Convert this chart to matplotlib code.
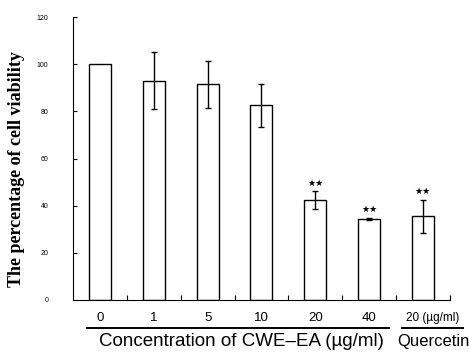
import matplotlib
matplotlib.use('Agg')
from matplotlib import pyplot as plt
from matplotlib.lines import Line2D
import numpy as np

# values
groups = ['0', '1', '5', '10', '20', '40', '20 (µg/ml)']
viability = [100, 93, 91.5, 82.5, 42.4, 34.3, 35.6]
sd = [0, 12, 10, 9.3, 3.8, 0.5, 7]
signif = ['', '', '', '', '★★', '★★', '★★']
yticks = [0, 20, 40, 60, 80, 100, 120]

fig = plt.figure(figsize=(4.69, 3.55), dpi=100)
ax = fig.add_axes([0.156, 0.155, 0.803, 0.797])

x = np.arange(len(groups))
ax.bar(x, viability, width=0.41, color='white', edgecolor='black', linewidth=1.0)
ax.errorbar(x[1:], viability[1:], yerr=sd[1:], fmt='none', ecolor='black',
            elinewidth=1.0, capsize=2.5, capthick=1.0)

for xi, v, e, s in zip(x, viability, sd, signif):
    if s:
        ax.text(xi, v + e + 1.5, s, ha='center', va='bottom', fontsize=6.5,
                family=['DejaVu Sans'])

ax.set_xlim(-0.5, 6.5)
ax.set_ylim(0, 120)
ax.spines['top'].set_visible(False)
ax.spines['right'].set_visible(False)

ax.set_yticks(yticks)
ax.set_yticklabels([str(t) for t in yticks], fontsize=5, family='Liberation Sans')
ax.tick_params(axis='y', direction='in', length=3, width=0.8, pad=18)

ax.set_xticks(np.arange(0.5, 7, 1.0))
ax.set_xticklabels([])
ax.tick_params(axis='x', direction='in', length=3.5, width=0.8)

trans = ax.get_xaxis_transform()
label_x = list(x[:-1]) + [6.19]
for lx, g in zip(label_x, groups):
    fs = 9.5 if g != groups[-1] else 8.5
    ax.text(lx, -0.064, g, transform=trans, ha='center', va='center',
            fontsize=fs, family='Liberation Sans')

# group underlines
ax.add_line(Line2D([-0.24, 5.37], [-0.099, -0.099], transform=trans,
                   color='black', linewidth=1.4, clip_on=False))
ax.add_line(Line2D([5.61, 6.75], [-0.099, -0.099], transform=trans,
                   color='black', linewidth=1.4, clip_on=False))

ax.text(2.62, -0.148, 'Concentration of CWE\u2013EA (µg/ml)', transform=trans,
        ha='center', va='center', fontsize=13.5, family='Liberation Sans')
ax.text(6.19, -0.148, 'Quercetin', transform=trans,
        ha='center', va='center', fontsize=12, family='Liberation Sans')

fig.text(0.036, 0.525, 'The percentage of cell viability', rotation=90,
         ha='center', va='center', fontsize=13, fontweight='bold',
         family='Liberation Serif')

fig.savefig('out.png', dpi=100)
